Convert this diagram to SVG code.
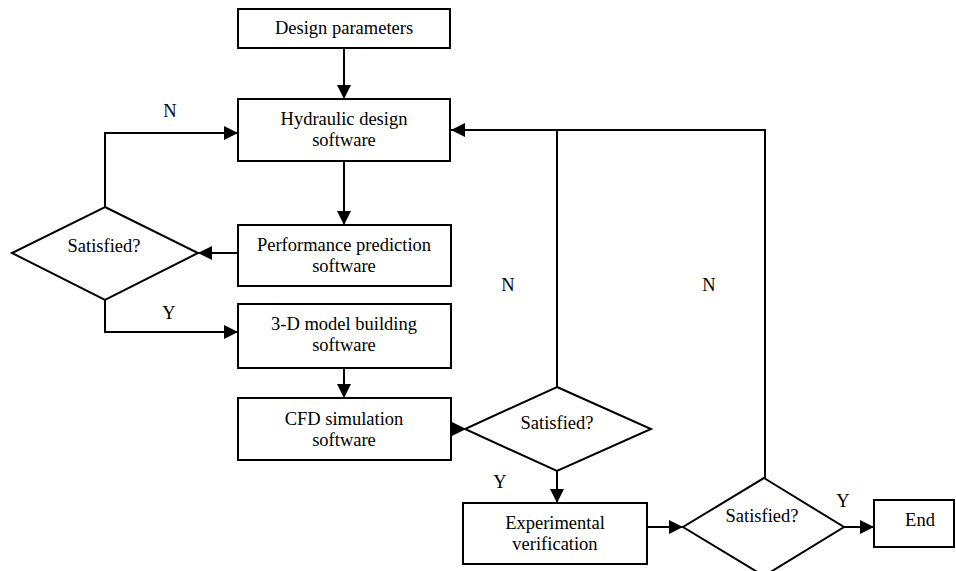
<svg xmlns="http://www.w3.org/2000/svg" width="956" height="571" viewBox="0 0 956 571">
<defs>
<marker id="ah" viewBox="0 0 14 14" refX="14" refY="7" markerWidth="14" markerHeight="14" markerUnits="userSpaceOnUse" orient="auto">
<path d="M0,0 L14,7 L0,14 Z" fill="#000"/>
</marker>
<style>
.box{fill:#fff;stroke:#000;stroke-width:2}
.dia{fill:#fff;stroke:#000;stroke-width:2}
.ln{fill:none;stroke:#000;stroke-width:2}
.ar{fill:none;stroke:#000;stroke-width:2;marker-end:url(#ah)}
text{font-family:'Liberation Serif','DejaVu Serif',Tinos,'Times New Roman',serif;font-size:18.5px;fill:#000;text-anchor:middle}
</style>
</defs>
<rect width="956" height="571" fill="#fff"/>
<g id="connectors">
<path class="ar" d="M344,48 V99"/>
<path class="ar" d="M344,161 V225"/>
<path class="ar" d="M238,253 H198"/>
<path class="ar" d="M105,207 V133 H238"/>
<path class="ar" d="M105,300 V332 H238"/>
<path class="ar" d="M344,368 V398"/>
<path class="ar" d="M451,429 H466"/>
<path class="ln" d="M557,387 V130 H765 V478"/>
<path class="ar" d="M557,130 H451"/>
<path class="ar" d="M557,471 V503"/>
<path class="ar" d="M647,527 H683"/>
<path class="ar" d="M844,527 H874"/>
</g>
<g id="labels">
<text x="170" y="117">N</text>
<text x="169" y="319">Y</text>
<text x="508" y="291">N</text>
<text x="709" y="291">N</text>
<text x="500" y="488">Y</text>
<text x="843" y="507">Y</text>
</g>
<g id="design-parameters">
<rect class="box" x="238" y="9" width="212" height="39"/>
<text x="344" y="34">Design parameters</text>
</g>
<g id="hydraulic-design">
<rect class="box" x="238" y="99" width="212" height="62"/>
<text x="344" y="125">Hydraulic design</text>
<text x="344" y="146">software</text>
</g>
<g id="performance-prediction">
<rect class="box" x="238" y="225" width="213" height="61"/>
<text x="344" y="251">Performance prediction</text>
<text x="344" y="272">software</text>
</g>
<g id="satisfied-1">
<polygon class="dia" points="105,207 198,253 105,300 12,253"/>
<text x="104" y="252">Satisfied?</text>
</g>
<g id="model-building">
<rect class="box" x="238" y="304" width="213" height="64"/>
<text x="344" y="330">3-D model building</text>
<text x="344" y="351">software</text>
</g>
<g id="cfd-simulation">
<rect class="box" x="238" y="398" width="213" height="62"/>
<text x="344" y="425">CFD simulation</text>
<text x="344" y="446">software</text>
</g>
<g id="satisfied-2">
<polygon class="dia" points="557,387 651,429 557,471 465,429"/>
<text x="557" y="429">Satisfied?</text>
</g>
<g id="experimental-verification">
<rect class="box" x="463" y="503" width="184" height="61"/>
<text x="555" y="529">Experimental</text>
<text x="555" y="550">verification</text>
</g>
<g id="satisfied-3">
<polygon class="dia" points="764,478 844,527 764,576 683,527"/>
<text x="762" y="522">Satisfied?</text>
</g>
<g id="end">
<rect class="box" x="874" y="500" width="80" height="47"/>
<text x="920" y="526">End</text>
</g>
</svg>
